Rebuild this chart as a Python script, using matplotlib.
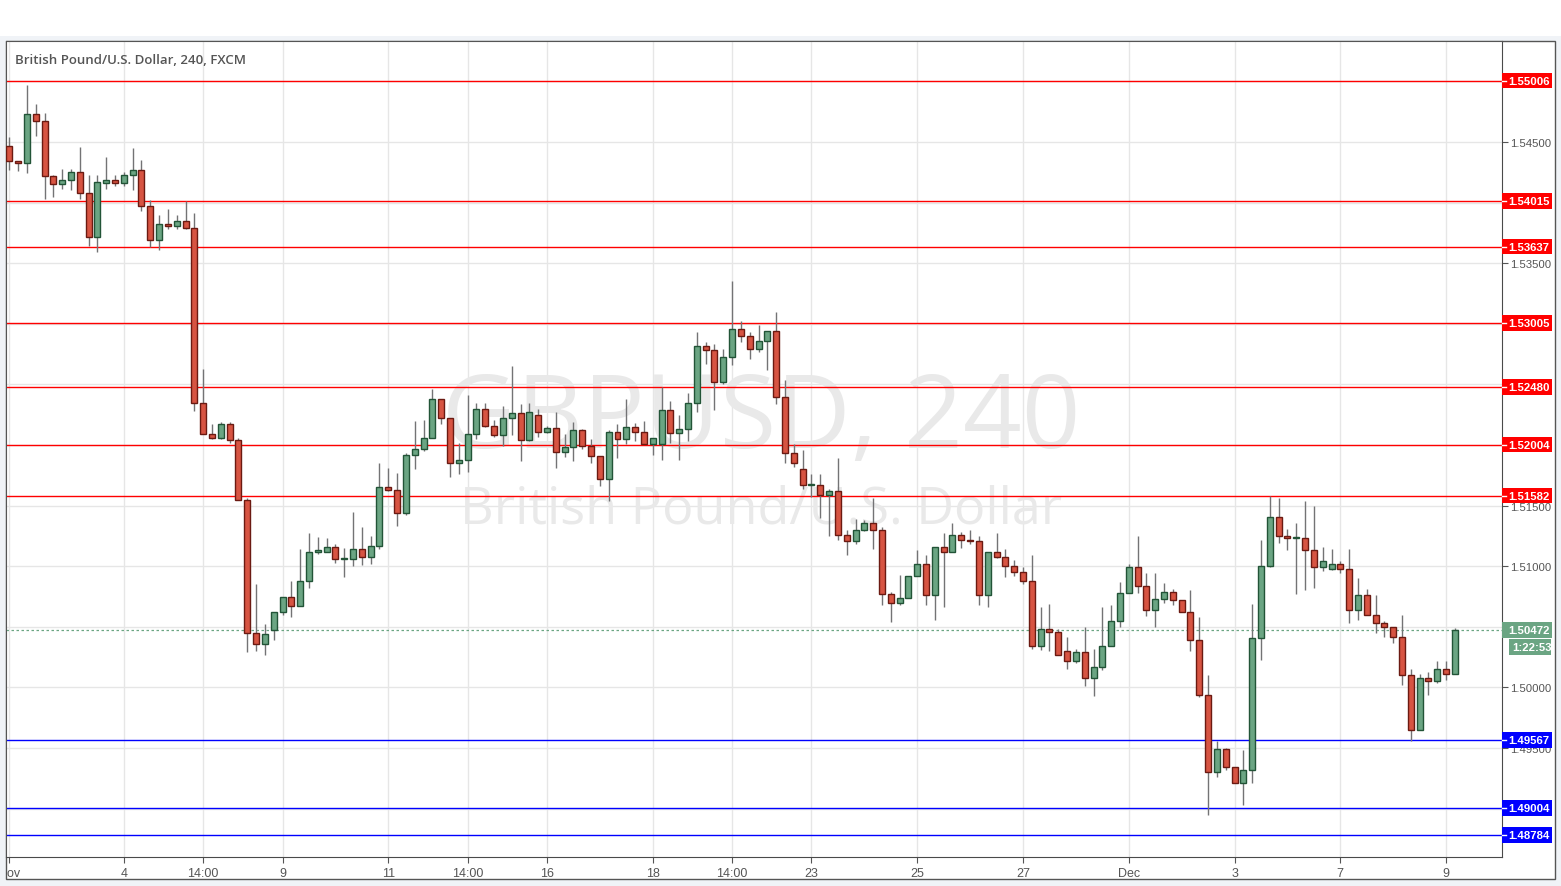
import matplotlib.pyplot as plt
import matplotlib.transforms as mtransforms
from matplotlib.patches import Rectangle

# 4H candles, GBPUSD (FXCM)
opens = [1.5447, 1.5434, 1.5433, 1.5473, 1.5467, 1.5422, 1.5415, 1.5419, 1.5425, 1.5408,
         1.5372, 1.5416, 1.5419, 1.5416, 1.5423, 1.5427, 1.5397, 1.5369, 1.5382, 1.5381,
         1.5385, 1.5379, 1.5235, 1.5209, 1.5206, 1.5217, 1.5204, 1.5155, 1.5045, 1.5036,
         1.5047, 1.5062, 1.5075, 1.5067, 1.5088, 1.5112, 1.5112, 1.5116, 1.5106, 1.5106,
         1.5114, 1.5108, 1.5117, 1.5165, 1.5163, 1.5144, 1.5192, 1.5197, 1.5206, 1.5238,
         1.5222, 1.5185, 1.5188, 1.5209, 1.5230, 1.5216, 1.5208, 1.5222, 1.5226, 1.5204,
         1.5225, 1.5211, 1.5214, 1.5194, 1.5198, 1.5212, 1.5199, 1.5191, 1.5172, 1.5211,
         1.5205, 1.5215, 1.5211, 1.5201, 1.5201, 1.5229, 1.5210, 1.5213, 1.5235, 1.5282,
         1.5278, 1.5252, 1.5273, 1.5296, 1.5290, 1.5279, 1.5286, 1.5294, 1.5240, 1.5193,
         1.5180, 1.5167, 1.5167, 1.5159, 1.5162, 1.5126, 1.5121, 1.5130, 1.5136, 1.5130,
         1.5077, 1.5070, 1.5074, 1.5092, 1.5102, 1.5076, 1.5116, 1.5112, 1.5126, 1.5122,
         1.5121, 1.5076, 1.5112, 1.5108, 1.5100, 1.5095, 1.5088, 1.5034, 1.5048, 1.5046,
         1.5030, 1.5022, 1.5029, 1.5008, 1.5017, 1.5034, 1.5055, 1.5078, 1.5099, 1.5084,
         1.5064, 1.5073, 1.5079, 1.5072, 1.5062, 1.5039, 1.4994, 1.4930, 1.4949, 1.4934,
         1.4921, 1.4932, 1.5041, 1.5100, 1.5141, 1.5125, 1.5123, 1.5123, 1.5113, 1.5099,
         1.5098, 1.5102, 1.5098, 1.5064, 1.5076, 1.5060, 1.5053, 1.5050, 1.5042, 1.5010,
         1.4965, 1.5008, 1.5005, 1.5015, 1.5011]
highs = [1.5454, 1.5434, 1.5497, 1.5481, 1.5474, 1.5423, 1.5428, 1.5428, 1.5446, 1.5423,
         1.5423, 1.5438, 1.5423, 1.5425, 1.5445, 1.5435, 1.5402, 1.5390, 1.5395, 1.5390,
         1.5401, 1.5391, 1.5263, 1.5217, 1.5219, 1.5219, 1.5206, 1.5156, 1.5085, 1.5052,
         1.5062, 1.5075, 1.5088, 1.5114, 1.5127, 1.5124, 1.5123, 1.5118, 1.5115, 1.5145,
         1.5132, 1.5125, 1.5185, 1.5181, 1.5177, 1.5193, 1.5220, 1.5221, 1.5246, 1.5238,
         1.5222, 1.5202, 1.5241, 1.5235, 1.5235, 1.5221, 1.5232, 1.5265, 1.5234, 1.5235,
         1.5230, 1.5216, 1.5227, 1.5209, 1.5219, 1.5213, 1.5205, 1.5191, 1.5212, 1.5217,
         1.5238, 1.5218, 1.5220, 1.5206, 1.5248, 1.5236, 1.5225, 1.5243, 1.5293, 1.5285,
         1.5283, 1.5279, 1.5335, 1.5302, 1.5293, 1.5299, 1.5294, 1.5310, 1.5254, 1.5201,
         1.5196, 1.5176, 1.5176, 1.5164, 1.5189, 1.5130, 1.5139, 1.5138, 1.5156, 1.5132,
         1.5079, 1.5093, 1.5092, 1.5113, 1.5109, 1.5116, 1.5127, 1.5136, 1.5128, 1.5130,
         1.5125, 1.5112, 1.5127, 1.5114, 1.5105, 1.5099, 1.5109, 1.5066, 1.5069, 1.5048,
         1.5042, 1.5032, 1.5050, 1.5032, 1.5066, 1.5068, 1.5087, 1.5102, 1.5125, 1.5094,
         1.5094, 1.5086, 1.5081, 1.5072, 1.5080, 1.5058, 1.5010, 1.4956, 1.4950, 1.4934,
         1.4948, 1.5069, 1.5122, 1.5158, 1.5156, 1.5131, 1.5136, 1.5154, 1.5150, 1.5116,
         1.5114, 1.5104, 1.5114, 1.5090, 1.5081, 1.5076, 1.5055, 1.5050, 1.5060, 1.5015,
         1.5011, 1.5013, 1.5022, 1.5022, 1.5049]
lows = [1.5427, 1.5426, 1.5424, 1.5455, 1.5403, 1.5405, 1.5411, 1.5410, 1.5403, 1.5364,
        1.5359, 1.5411, 1.5414, 1.5414, 1.5410, 1.5393, 1.5363, 1.5361, 1.5378, 1.5378,
        1.5378, 1.5228, 1.5209, 1.5205, 1.5205, 1.5202, 1.5155, 1.5029, 1.5030, 1.5027,
        1.5039, 1.5060, 1.5058, 1.5067, 1.5082, 1.5110, 1.5112, 1.5103, 1.5091, 1.5100,
        1.5101, 1.5102, 1.5114, 1.5162, 1.5133, 1.5142, 1.5180, 1.5195, 1.5206, 1.5217,
        1.5174, 1.5176, 1.5178, 1.5205, 1.5215, 1.5207, 1.5199, 1.5208, 1.5187, 1.5203,
        1.5207, 1.5210, 1.5181, 1.5190, 1.5187, 1.5197, 1.5185, 1.5166, 1.5154, 1.5189,
        1.5201, 1.5203, 1.5201, 1.5192, 1.5188, 1.5202, 1.5188, 1.5203, 1.5227, 1.5267,
        1.5229, 1.5250, 1.5266, 1.5285, 1.5271, 1.5277, 1.5262, 1.5234, 1.5185, 1.5182,
        1.5164, 1.5157, 1.5140, 1.5125, 1.5122, 1.5109, 1.5118, 1.5129, 1.5114, 1.5068,
        1.5054, 1.5068, 1.5074, 1.5092, 1.5068, 1.5056, 1.5066, 1.5112, 1.5115, 1.5118,
        1.5068, 1.5066, 1.5107, 1.5091, 1.5092, 1.5085, 1.5032, 1.5031, 1.5030, 1.5027,
        1.5015, 1.5020, 1.5001, 1.4993, 1.5014, 1.5034, 1.5050, 1.5078, 1.5078, 1.5059,
        1.5050, 1.5070, 1.5068, 1.5062, 1.5030, 1.4992, 1.4895, 1.4926, 1.4932, 1.4921,
        1.4903, 1.4921, 1.5023, 1.5099, 1.5119, 1.5113, 1.5077, 1.5080, 1.5082, 1.5096,
        1.5097, 1.5094, 1.5053, 1.5056, 1.5060, 1.5045, 1.5042, 1.5037, 1.5002, 1.4956,
        1.4965, 1.4994, 1.5004, 1.5006, 1.5011]
closes = [1.5434, 1.5433, 1.5473, 1.5467, 1.5422, 1.5415, 1.5419, 1.5425, 1.5408, 1.5372,
          1.5417, 1.5419, 1.5416, 1.5423, 1.5427, 1.5397, 1.5369, 1.5382, 1.5381, 1.5385,
          1.5379, 1.5235, 1.5209, 1.5206, 1.5217, 1.5204, 1.5155, 1.5045, 1.5036, 1.5044,
          1.5062, 1.5075, 1.5067, 1.5088, 1.5112, 1.5113, 1.5116, 1.5106, 1.5107, 1.5114,
          1.5108, 1.5117, 1.5165, 1.5163, 1.5144, 1.5192, 1.5197, 1.5206, 1.5238, 1.5222,
          1.5185, 1.5188, 1.5209, 1.5230, 1.5216, 1.5208, 1.5222, 1.5226, 1.5204, 1.5227,
          1.5211, 1.5214, 1.5194, 1.5198, 1.5212, 1.5199, 1.5191, 1.5172, 1.5211, 1.5205,
          1.5215, 1.5211, 1.5201, 1.5206, 1.5229, 1.5210, 1.5213, 1.5235, 1.5282, 1.5278,
          1.5252, 1.5273, 1.5296, 1.5290, 1.5279, 1.5286, 1.5294, 1.5240, 1.5193, 1.5185,
          1.5167, 1.5168, 1.5159, 1.5162, 1.5126, 1.5121, 1.5130, 1.5136, 1.5130, 1.5077,
          1.5070, 1.5074, 1.5092, 1.5102, 1.5076, 1.5116, 1.5112, 1.5126, 1.5122, 1.5121,
          1.5076, 1.5112, 1.5108, 1.5100, 1.5095, 1.5088, 1.5034, 1.5048, 1.5046, 1.5027,
          1.5022, 1.5029, 1.5008, 1.5017, 1.5034, 1.5055, 1.5078, 1.5099, 1.5084, 1.5064,
          1.5073, 1.5079, 1.5072, 1.5062, 1.5039, 1.4994, 1.4930, 1.4949, 1.4934, 1.4921,
          1.4932, 1.5041, 1.5100, 1.5141, 1.5125, 1.5123, 1.5124, 1.5113, 1.5099, 1.5104,
          1.5102, 1.5098, 1.5064, 1.5076, 1.5060, 1.5053, 1.5050, 1.5042, 1.5010, 1.4965,
          1.5008, 1.5005, 1.5015, 1.5011, 1.50472]

red_levels = [1.55006, 1.54015, 1.53637, 1.53005, 1.52480, 1.52004, 1.51582]
blue_levels = [1.49567, 1.49004, 1.48784]
last_price = 1.50472
countdown = "1:22:53"

x_tick_pos = [0, 13, 22, 31, 43, 52, 61, 73, 82, 91, 103, 115, 127, 139, 151, 163]
x_tick_lab = ["Nov", "4", "14:00", "9", "11", "14:00", "16", "18", "14:00",
              "23", "25", "27", "Dec", "3", "7", "9"]
y_ticks = [1.490, 1.495, 1.500, 1.505, 1.510, 1.515, 1.520, 1.525,
           1.530, 1.535, 1.540, 1.545, 1.550]
# scale labels that stay visible next to the level boxes
y_tick_lab = ["", "1.49500", "1.50000", "", "1.51000", "1.51500", "", "",
              "", "1.53500", "", "1.54500", ""]

W, H = 1561, 887
fig = plt.figure(figsize=(W / 100, H / 100), dpi=100, facecolor='#f0f3f7')
fig.patches.append(Rectangle((0, 1 - 37 / H), 1, 37 / H, transform=fig.transFigure,
                             facecolor='white', edgecolor='none', zorder=-6))
# white chart panel behind the axes
fig.patches.append(Rectangle((6 / W, 1 - 880 / H), (1555 - 6) / W, (880 - 42) / H,
                             transform=fig.transFigure, facecolor='white',
                             edgecolor='#555555', lw=1, zorder=-5))
ax = fig.add_axes([6 / W, 1 - 858 / H, (1502 - 6) / W, (858 - 42) / H])
ax.set_xlim(-0.37, 169.34)
ax.set_ylim(1.48601, 1.55333)

font = ['Liberation Sans Narrow', 'Liberation Sans', 'DejaVu Sans']

# watermark
ax.text(0.505, 0.535, "GBPUSD, 240", transform=ax.transAxes, ha='center', va='center',
        fontsize=74, color='#e9e9e9', family=['Open Sans', 'DejaVu Sans'], zorder=1)
ax.text(0.505, 0.427, "British Pound/U.S. Dollar", transform=ax.transAxes, ha='center',
        va='center', fontsize=37.5, color='#e9e9e9', family=['Open Sans', 'DejaVu Sans'],
        zorder=1)

ax.text(9 / (1502 - 6), 0.977, "British Pound/U.S. Dollar, 240, FXCM", transform=ax.transAxes,
        ha='left', va='center', fontsize=9.5, fontweight='semibold', color='#555555',
        family=['Open Sans', 'DejaVu Sans'], zorder=8)

# levels
for lv in red_levels:
    ax.axhline(lv, color='#ff0000', lw=1, zorder=2)
for lv in blue_levels:
    ax.axhline(lv, color='#0000ff', lw=1, zorder=2)
ax.axhline(last_price, color='#6ba583', lw=0.9, ls=(0, (2, 2)), zorder=2)

# candles
xs = list(range(len(opens)))
ax.vlines(xs, lows, highs, color='#737375', lw=1, zorder=3)
bottoms, heights, fills, edges = [], [], [], []
for o, c in zip(opens, closes):
    up = c >= o
    bottoms.append(min(o, c))
    heights.append(max(abs(c - o), 0.00004))
    fills.append('#6ba583' if up else '#d75442')
    edges.append('#225437' if up else '#6b1a12')
ax.bar(xs, heights, bottom=bottoms, width=0.68, color=fills, edgecolor=edges,
       linewidth=1, zorder=4)

# axes style
ax.grid(color='#e6e6e6', lw=1, zorder=0)
ax.set_axisbelow(True)
ax.set_xticks(x_tick_pos)
ax.set_xticklabels(x_tick_lab)
ax.yaxis.tick_right()
ax.set_yticks(y_ticks)
ax.set_yticklabels(y_tick_lab)
ax.tick_params(axis='both', length=4, color='#555555', labelcolor='#555555')
ax.tick_params(axis='y', pad=2, labelsize=8.2)
ax.tick_params(axis='x', pad=3, labelsize=9)
for lbl in ax.get_xticklabels() + ax.get_yticklabels():
    lbl.set_family(font)
for s in ['left', 'top']:
    ax.spines[s].set_color('#555555')
for s in ['right', 'bottom']:
    ax.spines[s].set_color('#4a4a4a')

clip = mtransforms.TransformedBbox(mtransforms.Bbox([[6 / W, 0], [1, 1]]), fig.transFigure)
for lbl in ax.get_xticklabels():
    lbl.set_clip_box(clip)
    lbl.set_clip_on(True)

# price boxes on the right scale
trans = mtransforms.blended_transform_factory(fig.transFigure, ax.transData)
bh = 0.00128


def price_box(y, text, color, x0=1502, x1=1552, tx=1508):
    ax.add_patch(Rectangle((x0 / W, y - bh / 2), (x1 - x0) / W, bh, transform=trans,
                           facecolor=color, edgecolor='none', clip_on=False, zorder=6))
    ax.text(tx / W, y, text, transform=trans, ha='left', va='center',
            color='white', fontsize=8.2, fontweight='bold', family=font,
            clip_on=False, zorder=7)


for lv in red_levels:
    price_box(lv, f"{lv:.5f}", '#ff0000')
    ax.plot([1502 / W, 1506 / W], [lv, lv], transform=trans, color='white', lw=1,
            clip_on=False, zorder=7)
for lv in blue_levels:
    price_box(lv, f"{lv:.5f}", '#0000ff')
    ax.plot([1502 / W, 1506 / W], [lv, lv], transform=trans, color='white', lw=1,
            clip_on=False, zorder=7)
price_box(last_price, f"{last_price:.5f}", '#6ba583')
price_box(last_price - 0.00137, countdown, '#6ba583', x0=1509, x1=1551, tx=1512)

fig.savefig("out.png", dpi=100, facecolor=fig.get_facecolor())
